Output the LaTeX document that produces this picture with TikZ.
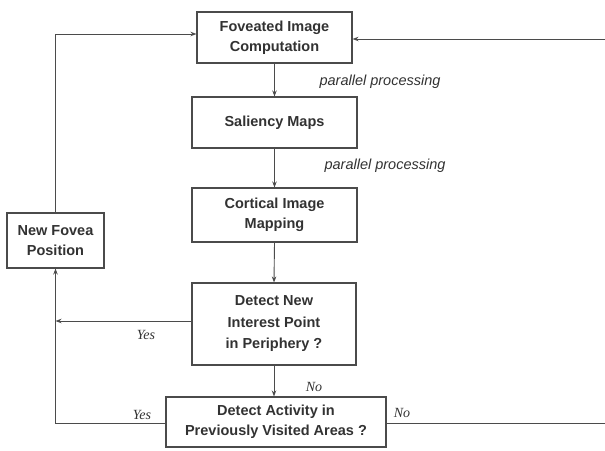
\documentclass[tikz,border=0pt]{standalone}
\usepackage{fontspec}
\setmainfont{Liberation Sans}
\newfontfamily\serifit{Liberation Serif}
\usetikzlibrary{arrows.meta}
\definecolor{linecol}{RGB}{75,75,75}
\definecolor{txtcol}{RGB}{50,50,50}
\tikzset{
  box/.style={draw=linecol, line width=1.1pt, align=center, text=txtcol,
    font=\fontsize{14.5}{20}\selectfont\bfseries, inner sep=0pt},
  conn/.style={draw=linecol, line width=0.9pt},
  arr/.style={conn, -{Stealth[length=6pt,width=4.5pt]}},
  plab/.style={text=txtcol, font=\fontsize{14.5}{17}\selectfont\itshape, inner sep=0pt},
  ylab/.style={text=txtcol, font=\fontsize{14}{16}\serifit\itshape, inner sep=0pt}
}
\begin{document}
\begin{tikzpicture}[x=1pt,y=-1pt]
\useasboundingbox (0,0) rectangle (605,450);
\clip (0,0) rectangle (605,450);
\node[box, minimum width=155pt, minimum height=51pt] (b1) at (274.5,37.5) {Foveated Image\\Computation};
\node[box, minimum width=165pt, minimum height=51pt] (b2) at (274.5,122.5) {Saliency Maps};
\node[box, minimum width=165pt, minimum height=54pt] (b3) at (274.5,215) {Cortical Image\\Mapping};
\node[box, minimum width=97pt, minimum height=55pt] (nf) at (55.5,240.5) {New Fovea\\Position};
\node[box, minimum width=164pt, minimum height=82pt, font=\fontsize{14.5}{21.5}\selectfont\bfseries] (b4) at (274,324) {Detect New\\Interest Point\\in Periphery ?};
\node[box, minimum width=220pt, minimum height=50pt] (b5) at (276,422) {Detect Activity in\\Previously Visited Areas ?};

\coordinate (tl) at (55.5,34);
\coordinate (bl) at (55.5,423);
\coordinate (br) at (609,423);
\coordinate (tr) at (609,39);

\draw[arr] (b1.south) -- (b2.north);
\draw[arr] (b2.south) -- (b3.north);
\draw[arr] (b3.south) -- (b4.north);
\draw[arr] (b4.south) -- (b4.south |- b5.north);
\draw[arr] ([yshift=3pt]b4.west) -- ([yshift=3pt]b4.west -| nf.south);
\draw[arr] (b5.west |- bl) -- (bl) -- (nf.south);
\draw[arr] (nf.north) -- (tl) -- (tl -| b1.west);
\draw[arr] (b5.east |- br) -- (br) -- (tr) -- (tr -| b1.east);

\node[plab] (p1) at (380,82) {parallel processing};
\node[plab] (p2) at (385,166) {parallel processing};
\node[ylab] (y1) at (146,335) {Yes};
\node[ylab] (y2) at (142,415) {Yes};
\node[ylab] (n1) at (314,387) {No};
\node[ylab] (n2) at (402,413) {No};
\end{tikzpicture}
\end{document}
